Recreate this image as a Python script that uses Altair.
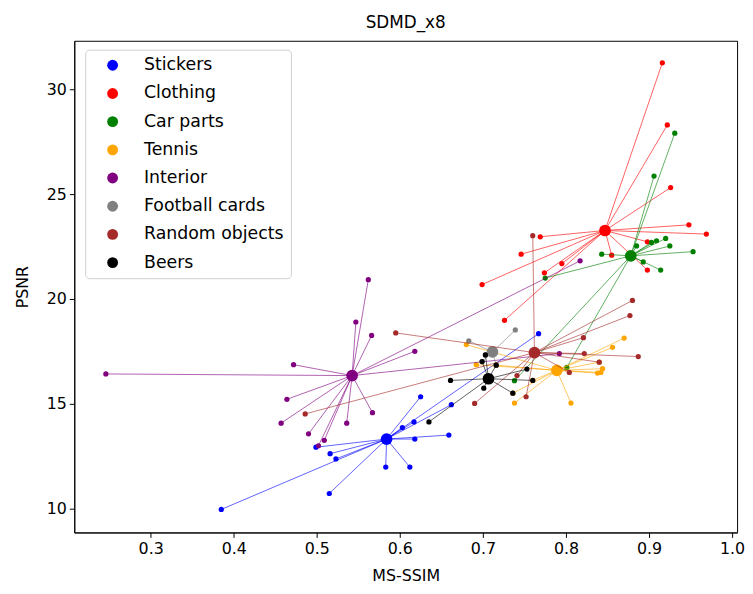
import altair as alt
import pandas as pd

categories = ["Stickers", "Clothing", "Car parts", "Tennis", "Interior",
              "Football cards", "Random objects", "Beers"]
colors = ["#0000ff", "#ff0000", "#008000", "#ffa500", "#800080",
          "#808080", "#a52a2a", "#000000"]

stickers_x = [0.625, 0.603, 0.617, 0.662, 0.659, 0.618, 0.612, 0.583, 0.515, 0.385, 0.523, 0.516, 0.499, 0.767]
stickers_y = [15.33, 13.86, 14.13, 14.95, 13.50, 13.31, 11.97, 11.97, 10.71, 9.95, 12.36, 12.61, 12.92, 18.34]

clothing_x = [0.916, 0.922, 0.926, 0.948, 0.969, 0.898, 0.855, 0.898, 0.769, 0.746, 0.795, 0.774, 0.699, 0.726]
clothing_y = [31.28, 28.31, 25.32, 23.54, 23.10, 22.73, 22.09, 21.38, 22.97, 22.14, 21.69, 21.25, 20.69, 18.98]

carparts_x = [0.931, 0.906, 0.920, 0.909, 0.903, 0.925, 0.953, 0.843, 0.893, 0.914, 0.885, 0.775, 0.738, 0.801]
carparts_y = [27.92, 25.87, 22.89, 22.78, 22.70, 22.53, 22.26, 22.14, 21.77, 21.38, 22.53, 21.00, 16.10, 16.73]

tennis_x = [0.870, 0.856, 0.844, 0.842, 0.838, 0.806, 0.738, 0.680, 0.692, 0.716, 0.736, 0.760, 0.840]
tennis_y = [18.13, 17.69, 16.67, 16.49, 16.46, 15.03, 15.03, 17.82, 16.86, 16.84, 15.50, 16.11, 16.98]

interior_x = [0.562, 0.547, 0.566, 0.618, 0.472, 0.464, 0.457, 0.490, 0.509, 0.536, 0.567, 0.246, 0.817, 0.792, 0.502]
interior_y = [20.92, 18.90, 18.26, 17.50, 16.86, 15.21, 14.07, 13.56, 13.25, 14.07, 14.57, 16.42, 21.82, 17.39, 12.99]

football_x = [0.739, 0.683, 0.703, 0.699, 0.716]
football_y = [18.52, 18.00, 17.33, 17.01, 16.84]

random_x = [0.760, 0.880, 0.877, 0.821, 0.822, 0.840, 0.887, 0.804, 0.752, 0.690, 0.595, 0.486, 0.741]
random_y = [23.02, 19.93, 19.21, 18.15, 17.39, 16.98, 17.25, 16.49, 15.33, 15.01, 18.38, 14.51, 16.34]

beers_x = [0.703, 0.716, 0.661, 0.701, 0.736, 0.760, 0.753, 0.635, 0.699]
beers_y = [17.33, 16.84, 16.11, 15.74, 15.50, 16.11, 16.65, 14.13, 17.01]

centroid_x = [0.584, 0.847, 0.878, 0.789, 0.5425, 0.7115, 0.762, 0.7067]
centroid_y = [13.31, 23.27, 22.06, 16.59, 16.34, 17.47, 17.44, 16.19]

series_x = [stickers_x, clothing_x, carparts_x, tennis_x, interior_x, football_x, random_x, beers_x]
series_y = [stickers_y, clothing_y, carparts_y, tennis_y, interior_y, football_y, random_y, beers_y]

rows = []
for i, cat in enumerate(categories):
    for xv, yv in zip(series_x[i], series_y[i]):
        rows.append({"cat": cat, "x": xv, "y": yv, "cx": centroid_x[i], "cy": centroid_y[i]})
df = pd.DataFrame(rows)
cent = pd.DataFrame({"cat": categories, "x": centroid_x, "y": centroid_y})

FONT = "DejaVu Sans"
xscale = alt.Scale(domain=[0.208, 1.006], nice=False, zero=False)
yscale = alt.Scale(domain=[8.85, 32.33], nice=False, zero=False)
cscale = alt.Scale(domain=categories, range=colors)

xax = alt.X("x:Q", scale=xscale,
            axis=alt.Axis(values=[0.3, 0.4, 0.5, 0.6, 0.7, 0.8, 0.9, 1.0], format=".1f", title="MS-SSIM"))
yax = alt.Y("y:Q", scale=yscale,
            axis=alt.Axis(values=[10, 15, 20, 25, 30], title="PSNR"))

layers = []
for i, cat in enumerate(categories):
    d = df[df["cat"] == cat]
    c = cent[cent["cat"] == cat]
    lines = alt.Chart(d).mark_rule(strokeWidth=1, opacity=0.62, color=colors[i]).encode(
        x=xax, y=yax, x2="cx:Q", y2="cy:Q")
    pts = alt.Chart(d).mark_circle(size=28, opacity=1).encode(
        x=xax, y=yax,
        color=alt.Color("cat:N", scale=cscale, title=None,
                        legend=alt.Legend(orient="none", legendX=11, legendY=9)))
    cpt = alt.Chart(c).mark_circle(size=140, opacity=1).encode(
        x=xax, y=yax,
        color=alt.Color("cat:N", scale=cscale, title=None))
    layers += [pts, cpt, lines]

chart = alt.layer(*layers).properties(
    width=670, height=497,
    title=alt.TitleParams("SDMD_x8", fontSize=17, font=FONT, fontWeight="normal",
                          color="black", anchor="middle", offset=9),
    autosize=alt.AutoSizeParams(type="none"),
    padding={"left": 67, "top": 30, "right": 8, "bottom": 51},
).configure_view(stroke="black", strokeWidth=1).configure_axis(
    labelFont=FONT, titleFont=FONT, labelFontSize=16, titleFontSize=16,
    labelColor="black", titleColor="black", titleFontWeight="normal",
    tickColor="black", domainColor="black", tickSize=5, grid=False,
    labelPadding=3,
).configure_axisX(titlePadding=12).configure_axisY(titlePadding=16).configure_legend(
    labelFont=FONT, labelFontSize=17.5, labelColor="black",
    symbolType="circle", symbolSize=120, symbolOffset=12, labelOffset=23,
    rowPadding=9.5, padding=7, strokeColor="#d0d0d0", cornerRadius=4,
    fillColor="rgba(255,255,255,0.8)", symbolStrokeWidth=0, symbolOpacity=1,
)

chart.save("out.html", embed_options={"renderer": "svg", "actions": False})
